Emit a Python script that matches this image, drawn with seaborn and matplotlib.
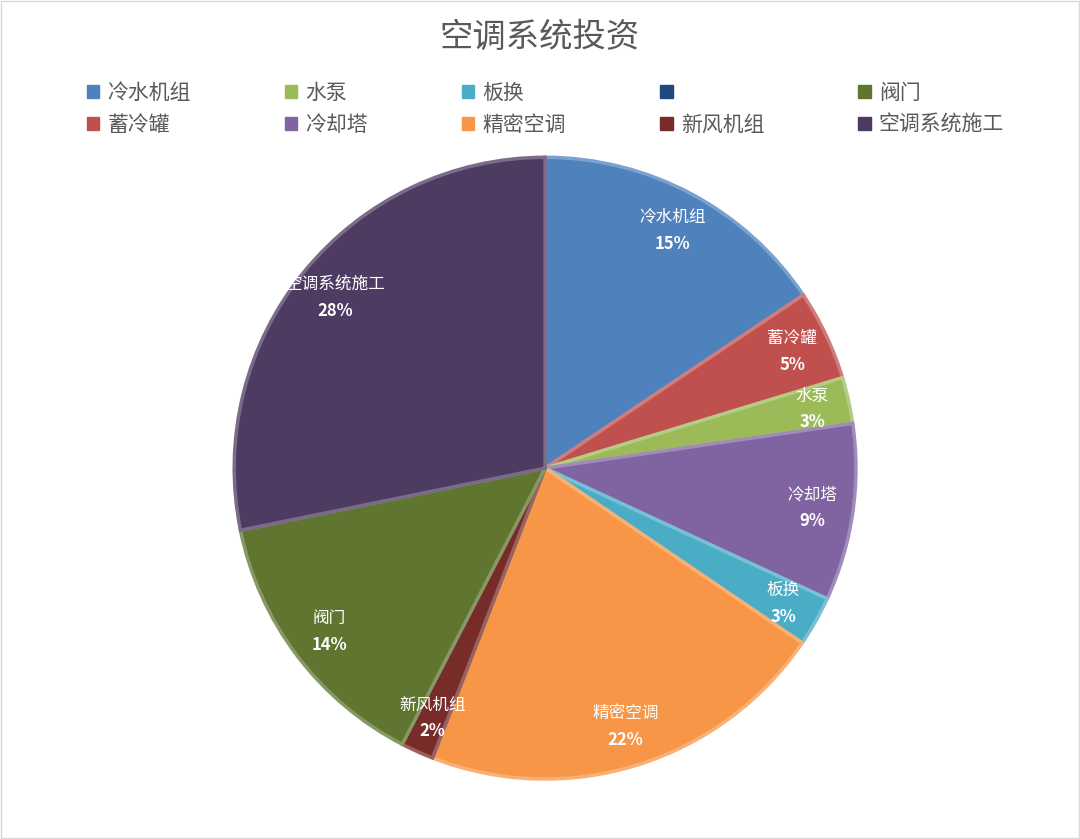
import matplotlib
matplotlib.use("Agg")
import matplotlib.pyplot as plt
import seaborn as sns
import numpy as np
from matplotlib.patches import Patch, Rectangle
from matplotlib.colors import to_rgb

sns.set_theme(style="white", font="Noto Sans CJK SC")

categories = ["冷水机组", "蓄冷罐", "水泵", "冷却塔", "板换", "精密空调", "", "新风机组", "阀门", "空调系统施工"]
values = [15.6, 4.7, 2.4, 9.2, 2.6, 21.4, 0.0, 1.7, 14.2, 28.2]
pct_labels = ["15%", "5%", "3%", "9%", "3%", "22%", "", "2%", "14%", "28%"]
colors = ["#4F81BD", "#C0504D", "#9BBB59", "#8064A2", "#4BACC6", "#F79646",
          "#1F497D", "#772C2A", "#5F7530", "#4D3B62"]

fig = plt.figure(figsize=(10.8, 8.39), dpi=100)
fig.patches.append(Rectangle((0.001, 0.001), 0.998, 0.998, transform=fig.transFigure,
                             fill=False, edgecolor="#D9D9D9", linewidth=1))
ax = fig.add_axes([0.2167, 0.0715, 0.576, 0.741])

def lighten(c, f=0.2):
    r = np.array(to_rgb(c))
    return tuple(r + (1 - r) * f)

wedges, _ = ax.pie(values, colors=colors, startangle=90, counterclock=False,
                   wedgeprops=dict(linewidth=2.5, edgecolor="white"))
for w, c in zip(wedges, colors):
    w.set_edgecolor(lighten(c, 0.25))
ax.set_aspect("equal")
ax.set_xlim(-1, 1)
ax.set_ylim(-1, 1)

for w, name, p, v in zip(wedges, categories, pct_labels, values):
    if v <= 0:
        continue
    ang = np.deg2rad((w.theta1 + w.theta2) / 2)
    r = 0.87 if v > 5 else 0.88
    x, y = r * np.cos(ang), r * np.sin(ang)
    ax.text(x, y + 0.04, name, ha="center", va="center", color="white", fontsize=12)
    ax.text(x, y - 0.045, p, ha="center", va="center", color="white", fontsize=12, fontweight="bold")

handles = [Patch(facecolor=c, edgecolor=c) for c in colors]
fig.legend(handles, categories, ncol=5, loc="upper center", bbox_to_anchor=(0.505, 0.925),
           frameon=False, fontsize=15, labelcolor="#595959", handlelength=0.6, handleheight=0.6,
           columnspacing=4.5, handletextpad=0.4, labelspacing=0.5)
fig.text(0.5, 0.955, "空调系统投资", ha="center", va="center", fontsize=24, color="#595959")
fig.savefig("out.png", dpi=100)
